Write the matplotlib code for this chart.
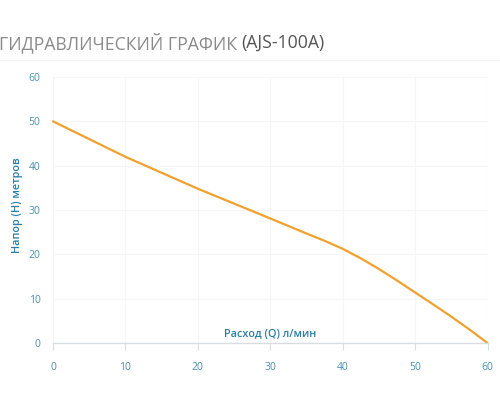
import matplotlib
matplotlib.use("Agg")
import matplotlib.pyplot as plt

flow = [0, 10, 20, 30, 35, 37.5, 40, 42.5, 45, 47.5, 50, 52.5, 55, 57.5, 60]
head = [50, 42.0, 34.8, 28.1, 24.7, 23.05, 21.25, 19.1, 16.7, 14.1, 11.4, 8.7, 5.95, 3.05, 0]
xticks = [0, 10, 20, 30, 40, 50, 60]
yticks = [0, 10, 20, 30, 40, 50, 60]
title_main = "ГИДРАВЛИЧЕСКИЙ ГРАФИК "
title_model = "(AJS-100A)"
xlabel = "Расход (Q) л/мин"
ylabel = "Напор (H) метров"

plt.rcParams['font.family'] = ['Open Sans', 'DejaVu Sans']
tick_col = '#4a90b0'
lab_col = '#2a7fa5'

fig = plt.figure(figsize=(5, 4), dpi=100)
ax = fig.add_axes([0.106, 0.1425, 0.869, 0.665])
ax.plot(flow, head, color='#f0a12e', lw=1.6, solid_capstyle='round',
        solid_joinstyle='round')
ax.set_xlim(0, 60)
ax.set_ylim(0, 60)
ax.set_xticks(xticks)
ax.set_yticks(yticks)
ax.grid(True, color='#f5f6f8', lw=0.8)
for s in ['top', 'right', 'left']:
    ax.spines[s].set_visible(False)
ax.spines['bottom'].set_color('#d8dde2')
ax.spines['bottom'].set_linewidth(1.0)
ax.tick_params(axis='x', colors='#d8dde2', labelcolor=tick_col, labelsize=7.5,
               length=5, direction='out', pad=9)
ax.tick_params(axis='y', length=0, labelcolor=tick_col, labelsize=7.5, pad=9)
for l in ax.lines:
    l.set_clip_on(False)

ax.text(0.5, 0.012, xlabel, transform=ax.transAxes, ha='center', va='bottom',
        color=lab_col, fontsize=7.8, fontweight='semibold')
fig.text(0.036, 0.4875, ylabel, rotation=90, ha='center', va='center',
         color=lab_col, fontsize=7.8, fontweight='semibold')

t1 = fig.text(-0.002, 0.893, title_main, ha='left', va='center', color='#8a8a8a', fontsize=12.7)
fig.canvas.draw()
bb = t1.get_window_extent()
x2 = bb.x1 / fig.bbox.width
fig.text(x2, 0.893, title_model, ha='left', va='center', color='#555555', fontsize=12.7)
fig.add_artist(plt.Line2D([0, 1], [0.85, 0.85], transform=fig.transFigure, color='#f2f2f2', lw=0.8))

fig.savefig('out.png', dpi=100, facecolor='white')
